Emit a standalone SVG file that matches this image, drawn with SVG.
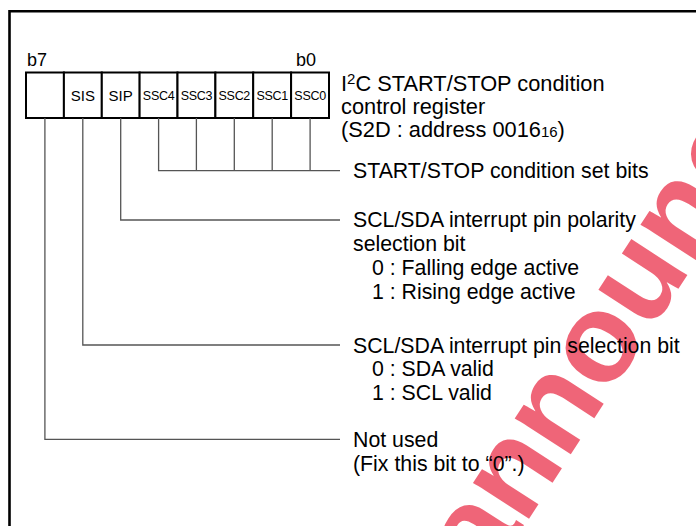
<svg xmlns="http://www.w3.org/2000/svg" width="696" height="526" viewBox="0 0 696 526">
<style>
text{font-family:"Liberation Sans",Arial,sans-serif;fill:#000}
.lbl{font-size:21.3px}
.ttl{font-size:21.8px}
.bit{font-size:18px}
.c1{font-size:15px}
.c2{font-size:12.5px;letter-spacing:-0.3px}
.cell{fill:#fff;stroke:#000;stroke-width:2}
.con{fill:none;stroke:#555;stroke-width:1.3}
.wm{font-family:"Liberation Sans",Arial,sans-serif;font-weight:bold;font-size:126px;fill:#e6001f;opacity:0.6}
</style>
<rect width="696" height="526" fill="#fff"/>
<text class="wm" transform="translate(486,585) rotate(-57)">announced</text>
<path d="M9.5 526 V11.2 H696" fill="none" stroke="#000" stroke-width="2.6"/>
<g id="register">
<rect class="cell" x="26" y="72.5" width="37.9" height="45.5"/>
<rect class="cell" x="63.9" y="72.5" width="37.9" height="45.5"/>
<rect class="cell" x="101.8" y="72.5" width="37.9" height="45.5"/>
<rect class="cell" x="139.6" y="72.5" width="37.9" height="45.5"/>
<rect class="cell" x="177.5" y="72.5" width="37.9" height="45.5"/>
<rect class="cell" x="215.4" y="72.5" width="37.9" height="45.5"/>
<rect class="cell" x="253.2" y="72.5" width="37.9" height="45.5"/>
<rect class="cell" x="291.1" y="72.5" width="37.9" height="45.5"/>
<text class="bit" x="27" y="66">b7</text>
<text class="bit" x="296" y="66">b0</text>
<text class="c1" x="82.8" y="101" text-anchor="middle">SIS</text>
<text class="c1" x="120.7" y="101" text-anchor="middle">SIP</text>
<text class="c2" x="158.6" y="100" text-anchor="middle">SSC4</text>
<text class="c2" x="196.4" y="100" text-anchor="middle">SSC3</text>
<text class="c2" x="234.3" y="100" text-anchor="middle">SSC2</text>
<text class="c2" x="272.2" y="100" text-anchor="middle">SSC1</text>
<text class="c2" x="310.1" y="100" text-anchor="middle">SSC0</text>
</g>
<g id="connectors">
<path class="con" d="M158.6 118 V170.7 H340 M196.4 118 V170.7 M234.3 118 V170.7 M272.2 118 V170.7 M310.1 118 V170.7"/>
<path class="con" d="M120.7 118 V220 H340"/>
<path class="con" d="M82.8 118 V345 H340"/>
<path class="con" d="M44.9 118 V439.3 H340"/>
</g>
<g id="title">
<text class="ttl" x="341" y="91">I<tspan font-size="15" dy="-7">2</tspan><tspan dy="7">C START/STOP condition</tspan></text>
<text class="ttl" x="341" y="114">control register</text>
<text class="ttl" x="341" y="137">(S2D : address 0016<tspan font-size="15">16</tspan>)</text>
</g>
<g id="ssc">
<text class="lbl" x="353" y="178">START/STOP condition set bits</text>
</g>
<g id="sip">
<text class="lbl" x="353" y="227">SCL/SDA interrupt pin polarity</text>
<text class="lbl" x="353" y="251">selection bit</text>
<text class="lbl" x="372" y="275">0 : Falling edge active</text>
<text class="lbl" x="372" y="299">1 : Rising edge active</text>
</g>
<g id="sis">
<text class="lbl" x="353" y="352.5">SCL/SDA interrupt pin selection bit</text>
<text class="lbl" x="372" y="376">0 : SDA valid</text>
<text class="lbl" x="372" y="400">1 : SCL valid</text>
</g>
<g id="notused">
<text class="lbl" x="353" y="447">Not used</text>
<text class="lbl" x="353" y="471">(Fix this bit to “0”.)</text>
</g>
</svg>
